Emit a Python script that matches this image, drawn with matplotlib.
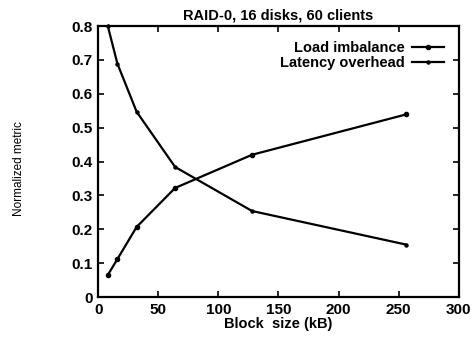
import matplotlib
matplotlib.use("Agg")
import matplotlib.pyplot as plt

plt.rcParams['font.family'] = ['Liberation Sans', 'DejaVu Sans']

block_kb = [8, 16, 32, 64, 128, 256]
load_imbalance = [0.065, 0.112, 0.207, 0.322, 0.42, 0.539]
latency_overhead = [0.80, 0.689, 0.547, 0.384, 0.254, 0.155]

fig = plt.figure(figsize=(4.72, 3.43), dpi=100)
ax = fig.add_axes([0.208, 0.134, 0.764, 0.79])

ax.plot(block_kb, load_imbalance, 'k-', marker='o', markersize=3, lw=1.6,
        label='Load imbalance', clip_on=False)
ax.plot(block_kb, latency_overhead, 'k-', marker='o', markersize=2.2, lw=1.6,
        label='Latency overhead', clip_on=False)

ax.set_xlim(0, 300)
ax.set_ylim(0, 0.8)
ax.set_xticks([0, 50, 100, 150, 200, 250, 300])
ax.set_yticks([0, 0.1, 0.2, 0.3, 0.4, 0.5, 0.6, 0.7, 0.8])
ax.set_yticklabels(['0', '0.1', '0.2', '0.3', '0.4', '0.5', '0.6', '0.7', '0.8'])
ax.tick_params(direction='in', top=True, right=True, length=4, width=1.2,
               labelsize=11, pad=4)
for lab in ax.get_xticklabels() + ax.get_yticklabels():
    lab.set_fontweight('bold')
for s in ax.spines.values():
    s.set_linewidth(1.6)

ax.set_title('RAID-0, 16 disks, 60 clients', fontsize=10.5, fontweight='bold', pad=5)
ax.set_xlabel('Block  size (kB)', fontsize=10.5, fontweight='bold', labelpad=0)
fig.text(0.04, 0.51, 'Normalized metric', rotation=90, fontsize=8.5,
         ha='center', va='center')

ax.legend(loc='upper right', frameon=False, markerfirst=False,
          handlelength=2.2, handletextpad=0.5, labelspacing=0.1,
          borderaxespad=0.6, prop={'weight': 'bold', 'size': 10.5})

fig.savefig('out.png', dpi=100)
